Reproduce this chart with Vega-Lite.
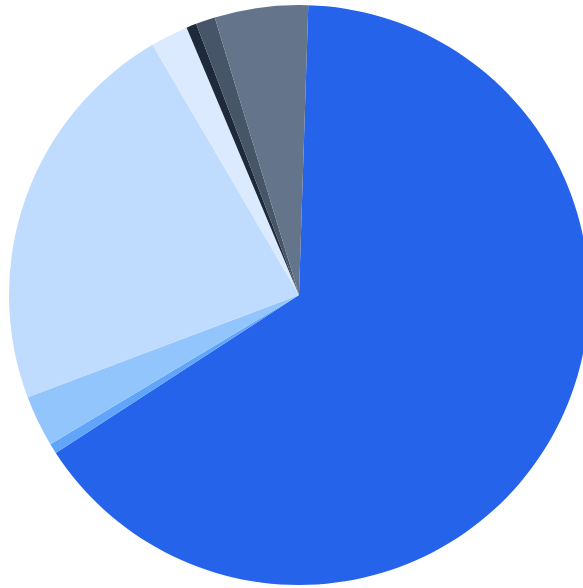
{
  "$schema": "https://vega.github.io/schema/vega-lite/v6.json",
  "autosize": "none",
  "width": 568,
  "height": 580,
  "padding": {"left": 15, "top": 5, "right": 0, "bottom": 3},
  "background": "white",
  "data": {
    "values": [
      {"category": "A", "rank": 1, "value": 65.3},
      {"category": "B", "rank": 2, "value": 0.56},
      {"category": "C", "rank": 3, "value": 2.86},
      {"category": "D", "rank": 4, "value": 22.3},
      {"category": "E", "rank": 5, "value": 2.1},
      {"category": "F", "rank": 6, "value": 0.56},
      {"category": "G", "rank": 7, "value": 1.08},
      {"category": "H", "rank": 8, "value": 5.2}
    ]
  },
  "mark": {"type": "arc", "outerRadius": 290},
  "encoding": {
    "theta": {
      "field": "value",
      "type": "quantitative",
      "stack": true,
      "scale": {"range": [0.0321, 6.3153]}
    },
    "order": {"field": "rank", "type": "quantitative"},
    "color": {
      "field": "category",
      "type": "nominal",
      "scale": {
        "domain": ["A", "B", "C", "D", "E", "F", "G", "H"],
        "range": ["#2563eb", "#60a5fa", "#93c5fd", "#bfdbfe", "#dbeafe", "#1e293b", "#475569", "#64748b"]
      },
      "legend": null
    }
  },
  "config": {"view": {"stroke": null}}
}
